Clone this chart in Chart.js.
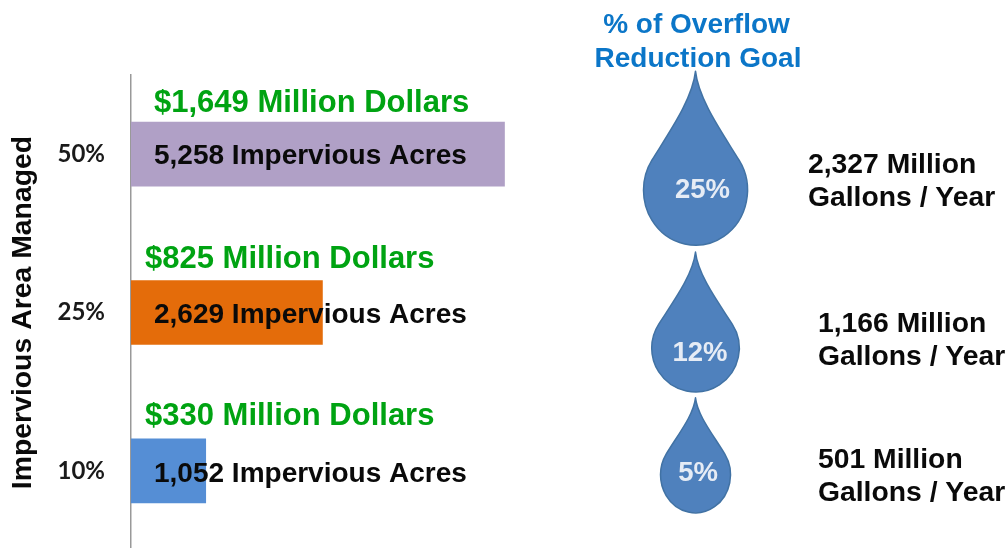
<!DOCTYPE html>
<html lang="en">
<head>
    <meta charset="UTF-8">
    <title>Impervious Area Managed</title>
    <script src="https://cdn.jsdelivr.net/npm/chart.js@4"></script>
    <style>
        html, body { margin: 0; background: #fff; overflow: hidden; }
        #wrap { width: 1008px; height: 548px; overflow: hidden; }
        canvas { display: block; filter: blur(0.4px); }
    </style>
</head>
<body>
    <div id="wrap"><canvas id="chart" width="1008" height="550"></canvas></div>

    <script>
        const categories = ['50%', '25%', '10%'];
        // bar lengths as drawn: the 25% bar is a little longer than its 2,629 label says
        const barValues = [5258, 2695, 1052];
        const barColors = ['#b0a0c6', '#e46c0a', '#558ed5'];
        const acresLabels = ['5,258 Impervious Acres', '2,629 Impervious Acres', '1,052 Impervious Acres'];
        const dollarLabels = ['$1,649 Million Dollars', '$825 Million Dollars', '$330 Million Dollars'];
        const overflowPct = ['25%', '12%', '5%'];
        const gallonLabels = [
            ['2,327 Million', 'Gallons / Year'],
            ['1,166 Million', 'Gallons / Year'],
            ['501 Million', 'Gallons / Year']
        ];

        const boldFont = size => `bold ${size}px "Liberation Sans", Arial, sans-serif`;

        // offsets from the bar's centre line, one entry per category
        const rowLayout = [
            { dollarX: 23, dollarY: -42, acresY: 9.5, dropY: 36, tip: 119, rx: 52, ry: 55, pctX: 7, pctY: 44, galX: 808, galY: 18.5 },
            { dollarX: 14, dollarY: -44.5, acresY: 10.5, dropY: 35.5, tip: 96, rx: 43.8, ry: 44, pctX: 4.5, pctY: 48, galX: 818, galY: 19 },
            { dollarX: 14, dollarY: -46, acresY: 11, dropY: 4, tip: 77, rx: 35, ry: 38, pctX: 2.5, pctY: 10.5, galX: 818, galY: -3 }
        ];

        function drawDrop(ctx, cx, cy, tip, rx, ry) {
            const a = 33 * Math.PI / 180;
            const ex = rx * Math.cos(a), ey = ry * Math.sin(a);
            // control points: near the tip, then along the tangent of the round body
            const c1x = rx * 0.06, c1y = cy - ey - (tip - ey) * 0.68;
            const c2x = ex - 0.6 * rx * Math.sin(a), c2y = cy - ey - 0.6 * ry * Math.cos(a);
            ctx.beginPath();
            ctx.moveTo(cx, cy - tip);
            ctx.bezierCurveTo(cx + c1x, c1y, cx + c2x, c2y, cx + ex, cy - ey);
            ctx.ellipse(cx, cy, rx, ry, 0, -a, Math.PI + a);
            ctx.bezierCurveTo(cx - c2x, c2y, cx - c1x, c1y, cx, cy - tip);
            ctx.closePath();
            ctx.fillStyle = '#4f81bd';
            ctx.fill();
            ctx.lineWidth = 1.5;
            ctx.lineJoin = 'round';
            ctx.strokeStyle = '#4172a4';
            ctx.stroke();
        }

        // Labels, drops and the right hand column sit on top of the bars
        const annotations = {
            id: 'annotations',
            afterDatasetsDraw(chart) {
                const { ctx, scales } = chart;
                const x0 = scales.x.getPixelForValue(0);
                ctx.save();
                ctx.textBaseline = 'alphabetic';

                categories.forEach((cat, i) => {
                    const mid = scales.y.getPixelForValue(i);
                    const row = rowLayout[i];

                    ctx.textAlign = 'left';
                    ctx.font = boldFont(31);
                    ctx.fillStyle = '#00a312';
                    ctx.fillText(dollarLabels[i], x0 + row.dollarX, mid + row.dollarY);

                    ctx.font = boldFont(28);
                    ctx.fillStyle = '#0a0a0a';
                    ctx.fillText(acresLabels[i], x0 + 23, mid + row.acresY);

                    const dropX = 695.5;
                    drawDrop(ctx, dropX, mid + row.dropY, row.tip, row.rx, row.ry);

                    ctx.textAlign = 'center';
                    ctx.font = boldFont(27.5);
                    ctx.fillStyle = '#e6ecf5';
                    ctx.fillText(overflowPct[i], dropX + row.pctX, mid + row.pctY);

                    ctx.textAlign = 'left';
                    ctx.font = boldFont(28.3);
                    ctx.fillStyle = '#0a0a0a';
                    gallonLabels[i].forEach((line, j) => {
                        ctx.fillText(line, row.galX, mid + row.galY + j * 33);
                    });
                });

                ctx.textAlign = 'center';
                ctx.font = boldFont(28);
                ctx.fillStyle = '#0b76c8';
                ctx.fillText('% of Overflow', 696.5, 33);
                ctx.fillText('Reduction Goal', 698, 67);
                ctx.restore();
            }
        };

        new Chart(document.getElementById('chart').getContext('2d'), {
            type: 'bar',
            plugins: [annotations],
            data: {
                labels: categories,
                datasets: [{
                    data: barValues,
                    backgroundColor: barColors,
                    barThickness: 64
                }]
            },
            options: {
                indexAxis: 'y',
                responsive: false,
                animation: false,
                layout: { padding: { top: 75 } },
                plugins: {
                    legend: { display: false },
                    tooltip: { enabled: false }
                },
                scales: {
                    x: { display: false, min: 0, max: 12346 },
                    y: {
                        // tick padding would otherwise also reserve room under the last bar
                        afterFit: scale => {
                            scale.width = 131;
                            scale.paddingTop = 0;
                            scale.paddingBottom = 0;
                        },
                        grid: { drawOnChartArea: false, drawTicks: false },
                        border: { color: '#999999', width: 1.5 },
                        ticks: {
                            padding: 26,
                            color: '#1a1a1a',
                            font: { family: 'Lato', weight: 'bold', size: 24 }
                        },
                        title: {
                            display: true,
                            text: 'Impervious Area Managed',
                            color: '#0a0a0a',
                            font: { family: '"Liberation Sans"', weight: 'bold', size: 28.4 },
                            padding: { top: 6, bottom: 0 }
                        }
                    }
                }
            }
        });
    </script>
</body>
</html>
